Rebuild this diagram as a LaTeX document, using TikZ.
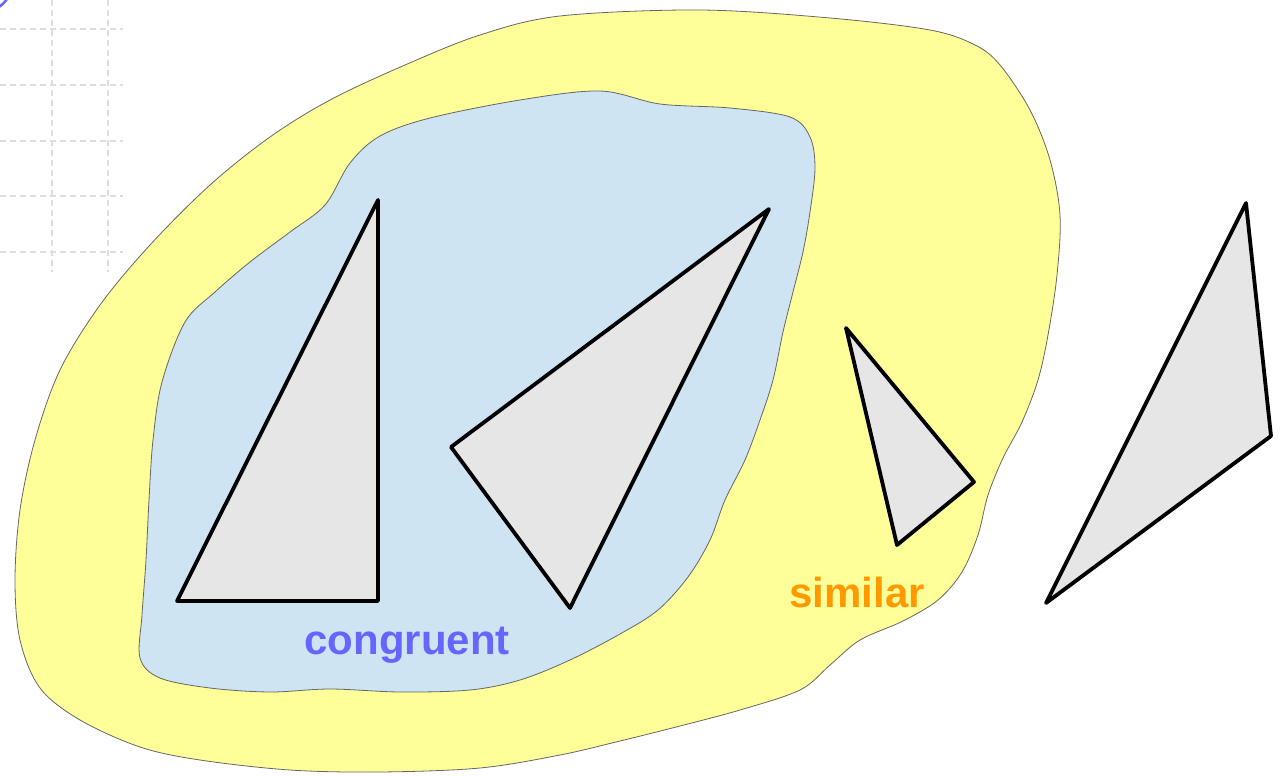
\documentclass[tikz,border=0pt]{standalone}
\usepackage{fontspec}
\setmainfont{Liberation Sans}
\definecolor{simyellow}{HTML}{FFFF99}
\definecolor{conblue}{HTML}{CEE4F2}
\definecolor{trigrey}{HTML}{E6E6E6}
\definecolor{conlabel}{HTML}{6666FF}
\definecolor{simlabel}{HTML}{FF9900}
\tikzset{
  blob/.style = {draw = black!60, line width = .8pt},
  tri/.style = {draw = black, fill = trigrey, line width = 3.8pt, line join = round},
  gridline/.style = {black!13, line width = 1.2pt, dash pattern = on 6pt off 4pt},
  setlabel/.style = {font = \bfseries\fontsize{42}{42}\selectfont}
}
\begin{document}
\begin{tikzpicture}[x = 1pt, y = -1pt]
			\useasboundingbox (0, 0) rectangle (1283, 776);
			% grid in the corner
			\foreach \gx in {52, 108}
			\draw[gridline] (\gx, 0) -- (\gx, 272);
			\foreach \gy in {29, 85, 141, 196, 252}
			\draw[gridline] (0, \gy) -- (123, \gy);
			\begin{scope}
				\clip (0, 0) rectangle (1283, 776);
				\draw[conlabel, line width = 2.5pt] (-20, -20) circle (33);
			\end{scope}
			% the two sets
			\draw[blob, fill = simyellow] plot[smooth cycle, tension = .55] coordinates {
				(405, 65) (480, 35) (560, 16) (700, 10) (830, 18) (930, 30) (975, 45) (1000, 65)
				(1030, 110) (1050, 160) (1060, 215) (1057, 275) (1048, 335) (1038, 380) (1022, 422)
				(1003, 458) (988, 495) (978, 535) (962, 572) (938, 600) (903, 621) (860, 640)
				(830, 665) (800, 690) (740, 710) (680, 726) (620, 741) (560, 755) (480, 768)
				(380, 772) (290, 770) (200, 760) (140, 747) (80, 720) (40, 688) (20, 640)
				(15, 580) (20, 510) (35, 440) (60, 370) (100, 305) (150, 245) (210, 185)
				(270, 137) (330, 100)};
			\draw[blob, fill = conblue] plot[smooth cycle, tension = .55] coordinates {
				(430, 118) (520, 100) (600, 91) (660, 104) (730, 108) (790, 117) (810, 137)
				(815, 168) (810, 212) (803, 252) (793, 292) (783, 332) (773, 380) (760, 420)
				(745, 460) (725, 500) (710, 540) (688, 577) (658, 610) (620, 634) (570, 660)
				(520, 680) (470, 690) (400, 692) (330, 689) (270, 692) (210, 688) (160, 678)
				(140, 658) (142, 615) (146, 560) (149, 500) (153, 440) (162, 382) (185, 322)
				(215, 292) (250, 262) (290, 232) (325, 205) (350, 163) (380, 136)};
			% triangles
			\foreach \ax/\ay/\bx/\by/\cx/\cy in {378/200/378/601/177/601, 769/209/451/447/570/608,
				846/328/974/482/897/545, 1246/203/1271/436/1046/603}
			\draw[tri] (\ax, \ay) -- (\bx, \by) -- (\cx, \cy) -- cycle;
			\node[setlabel, text = conlabel] (congruent) at (407, 645) {congruent};
			\node[setlabel, text = simlabel] (similar) at (857, 592) {similar};
		\end{tikzpicture}
\end{document}
